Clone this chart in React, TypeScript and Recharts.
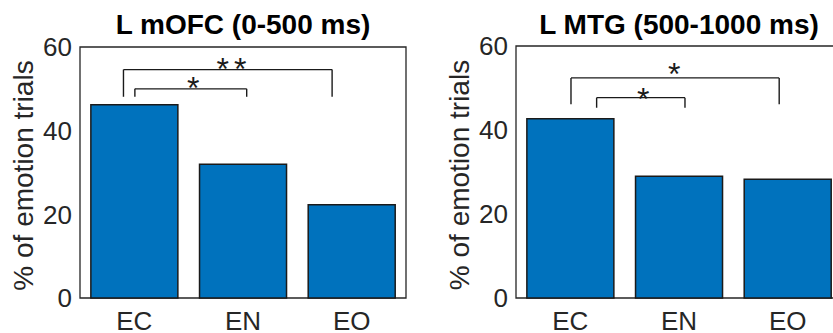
import { BarChart, Bar, XAxis, YAxis, ReferenceArea, ReferenceLine, ReferenceDot } from 'recharts';

const categories = ['EC', 'EN', 'EO'];
const mofcValues = [46.2, 32.0, 22.3];
const mtgValues = [42.7, 29.0, 28.3];
const yTicks = [0, 20, 40, 60];

// significance brackets, in data units (x: bar position 1..3, y: percent)
const mofcBrackets = [
  { x1: 0.9, x2: 2.82, top: 54.6, low: 48.1 },
  { x1: 1.005, x2: 2.034, top: 50.0, low: 48.1 },
];
const mofcStars = [
  { x: 1.894, y: 56.4, text: '**' },
  { x: 1.542, y: 51.9, text: '*' },
];
const mtgBrackets = [
  { x1: 1.006, x2: 2.922, top: 52.4, low: 46.15 },
  { x1: 1.242, x2: 2.055, top: 47.7, low: 45.3 },
];
const mtgStars = [
  { x: 1.956, y: 55.0, text: '*' },
  { x: 1.671, y: 49.2, text: '*' },
];

const FONT = '"Liberation Sans", Arial, Helvetica, sans-serif';
const INK = '#262626';

interface Bracket { x1: number; x2: number; top: number; low: number }
interface Star { x: number; y: number; text: string }

interface PanelProps {
  title: string;
  values: number[];
  brackets: Bracket[];
  stars: Star[];
  left: number;
  top: number;
}

function Panel({ title, values, brackets, stars, left, top }: PanelProps) {
  const data = categories.map((name, i) => ({ x: i + 1, name, value: values[i] }));
  return (
    <div style={{ position: 'absolute', left, top: 0, width: 420, height: 333 }}>
      <div
        style={{
          position: 'absolute',
          left: 80,
          width: 326,
          top: 11,
          textAlign: 'center',
          fontFamily: FONT,
          fontWeight: 'bold',
          fontSize: 28,
          lineHeight: '28px',
          color: '#000',
          whiteSpace: 'nowrap',
        }}
      >
        {title}
      </div>
      <BarChart
        width={420}
        height={333}
        data={data}
        margin={{ top, right: 14, bottom: 0, left: 0 }}
        barCategoryGap="10%"
        style={{ fontFamily: FONT }}
      >
        <XAxis
          type="number"
          dataKey="x"
          domain={[0.5, 3.5]}
          ticks={[1, 2, 3]}
          tickFormatter={(v) => categories[v - 1]}
          allowDataOverflow
          height={35}
          axisLine={false}
          tickLine={false}
          tickSize={0}
          tickMargin={14}
          tick={{ fill: INK, fontSize: 26 }}
        />
        <YAxis
          type="number"
          domain={[0, 60]}
          ticks={yTicks}
          width={80}
          axisLine={false}
          tickLine={false}
          tickSize={0}
          tickMargin={8}
          tick={{ fill: INK, fontSize: 26 }}
          label={{
            value: '% of emotion trials',
            angle: -90,
            position: 'center',
            dx: -17,
            dy: 3,
            fontSize: 28,
            fill: INK,
          }}
        />
        <Bar dataKey="value" fill="#0072BD" stroke="#1a1a1a" strokeWidth={1.5} isAnimationActive={false} />
        <ReferenceArea x1={0.5} x2={3.5} y1={0} y2={60} fill="none" stroke={INK} strokeWidth={1.3} />
        {brackets.map((b, i) => [
          <ReferenceLine key={`l${i}`} segment={[{ x: b.x1, y: b.low }, { x: b.x1, y: b.top }]} stroke="#1a1a1a" strokeWidth={1.4} />,
          <ReferenceLine key={`h${i}`} segment={[{ x: b.x1, y: b.top }, { x: b.x2, y: b.top }]} stroke="#1a1a1a" strokeWidth={1.4} />,
          <ReferenceLine key={`r${i}`} segment={[{ x: b.x2, y: b.top }, { x: b.x2, y: b.low }]} stroke="#1a1a1a" strokeWidth={1.4} />,
        ])}
        {stars.map((s, i) => (
          <ReferenceDot
            key={`s${i}`}
            x={s.x}
            y={s.y}
            r={0}
            fill="none"
            stroke="none"
            label={{
              value: s.text,
              position: 'center',
              fontSize: 32,
              fill: '#1a1a1a',
              dy: 7,
              dx: s.text.length > 1 ? 2.5 : 0,
              letterSpacing: s.text.length > 1 ? 5 : 0,
            }}
          />
        ))}
      </BarChart>
    </div>
  );
}

export default function App() {
  return (
    <div
      style={{
        position: 'fixed',
        left: 0,
        top: 0,
        width: 833,
        height: 333,
        overflow: 'hidden',
        background: '#fff',
      }}
    >
      <Panel title="L mOFC (0-500 ms)" values={mofcValues} brackets={mofcBrackets} stars={mofcStars} left={0} top={47} />
      <Panel title="L MTG (500-1000 ms)" values={mtgValues} brackets={mtgBrackets} stars={mtgStars} left={436} top={46} />
    </div>
  );
}
